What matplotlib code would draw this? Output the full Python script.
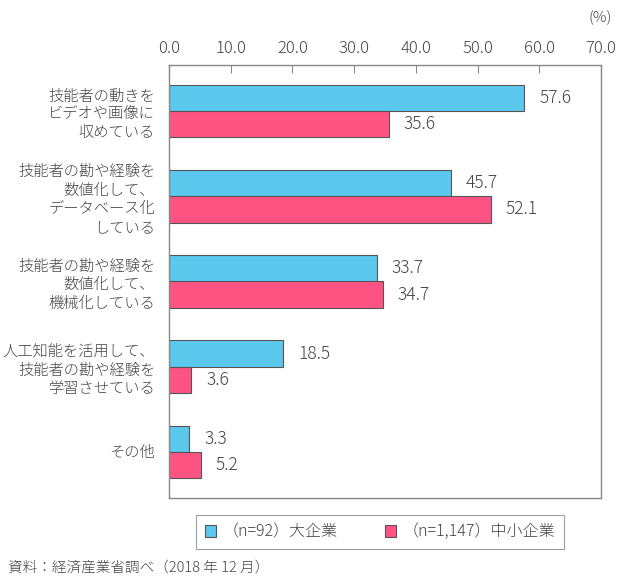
import matplotlib
matplotlib.use("Agg")
import matplotlib.pyplot as plt
import numpy as np

plt.rcParams['font.family'] = ['Noto Sans CJK JP', 'DejaVu Sans']

categories = [
    "技能者の動きを\nビデオや画像に\n収めている",
    "技能者の勘や経験を\n数値化して、\nデータベース化\nしている",
    "技能者の勘や経験を\n数値化して、\n機械化している",
    "人工知能を活用して、\n技能者の勘や経験を\n学習させている",
    "その他",
]
large = [57.6, 45.7, 33.7, 18.5, 3.3]
sme = [35.6, 52.1, 34.7, 3.6, 5.2]
series_names = ["（n=92）大企業", "（n=1,147）中小企業"]
xticks = [0, 10, 20, 30, 40, 50, 60, 70]

c_blue = "#5BC8EE"
c_pink = "#FF5384"
edge = "#555555"
tc = "#444444"
W = "light"

fig = plt.figure(figsize=(6.26, 5.86), dpi=100)
ax = fig.add_axes([169/626, 1-498/586, (601-169)/626, (498-65)/586])

y = np.arange(len(categories))
h = 0.31
b1 = ax.barh(y - h/2, large, height=h, color=c_blue, edgecolor=edge, linewidth=0.8, label=series_names[0])
b2 = ax.barh(y + h/2, sme, height=h, color=c_pink, edgecolor=edge, linewidth=0.8, label=series_names[1])

for yi, v in zip(y - h/2, large):
    ax.text(v + 2.4, yi, f"{v:.1f}", va="center", ha="left", fontsize=12.5, color=tc, fontweight=W)
for yi, v in zip(y + h/2, sme):
    ax.text(v + 2.4, yi, f"{v:.1f}", va="center", ha="left", fontsize=12.5, color=tc, fontweight=W)

ax.set_xlim(0, 70)
ax.set_ylim(4.54, -0.54)
ax.set_xticks(xticks)
ax.set_xticklabels([f"{t:.1f}" for t in xticks], fontsize=12, color=tc, fontweight=W)
ax.xaxis.tick_top()
ax.tick_params(axis="x", direction="in", length=6, color="#888888", pad=6)
ax.set_yticks(y)
ax.set_yticklabels(categories, fontsize=11, color=tc, linespacing=1.4, ha="right", fontweight=W)
ax.tick_params(axis="y", length=0, pad=10)
for s in ax.spines.values():
    s.set_color("#888888")
    s.set_linewidth(1.0)

fig.text(612/626, 1-18/586, "(%)", ha="right", va="center", fontsize=11, color=tc, fontweight=W)

leg = fig.legend(handles=[b1, b2], labels=series_names, loc="center",
                 bbox_to_anchor=(380/626, 1-532/586), ncol=2, frameon=True,
                 fancybox=False, edgecolor="#888888",
                 handlelength=0.7, handleheight=0.7, columnspacing=3.0,
                 borderpad=0.55, handletextpad=0.4, labelcolor=tc,
                 prop={'weight': W, 'size': 11.5})
leg.get_frame().set_linewidth(0.8)

fig.text(8/626, 1-568/586, "資料：経済産業省調べ（2018 年 12 月）", ha="left", va="center", fontsize=10.5, color=tc, fontweight=W)

fig.savefig("out.png", dpi=100)
